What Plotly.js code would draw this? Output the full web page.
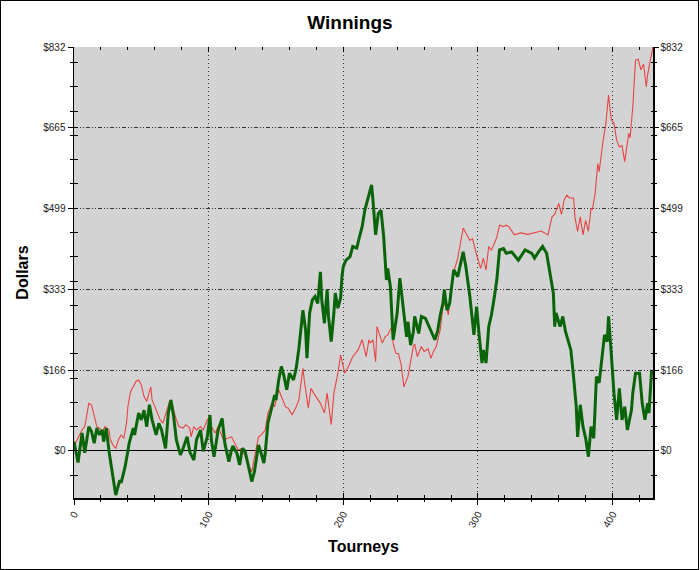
<!DOCTYPE html>
<html>
<head>
<meta charset="utf-8">
<script src="https://cdn.plot.ly/plotly-3.0.1.min.js"></script>
<style>
  html, body { margin: 0; padding: 0; background: #fff; }
  #chart { width: 700px; height: 570px; position: absolute; left: 0; top: 0; }
  #frame { position: absolute; left: 0; top: 0; width: 699px; height: 570px; box-sizing: border-box; border: 1px solid #000; pointer-events: none; }
</style>
</head>
<body>
<div id="chart"></div>
<div id="frame"></div>
<script>
// ---- data ----
const redTourneys = [0,6,8,10,11,13,15,17,19,21,23,26,27,29,31,33,35,37,39,40,42,44,46,48,50,52,54,55,57,58,60,62,64,66,68,71,72,74,76,78,81,83,86,87,89,91,94,96,99,101,102,105,107,111,117,122,125,129,132,134,137,139,142,144,147,149,152,154,157,159,162,165,167,170,171,174,176,178,181,183,186,188,191,193,196,198,201,204,207,211,214,215,217,219,220,222,224,225,227,229,231,233,236,237,239,241,243,245,248,250,252,253,255,258,260,263,265,267,269,272,274,276,278,280,282,285,287,289,291,294,296,298,299,302,304,306,308,310,313,314,316,319,321,323,327,332,337,342,347,352,355,357,360,362,364,366,368,371,372,374,376,378,380,382,384,385,387,389,390,393,395,397,399,401,403,405,407,409,412,413,415,417,419,421,423,425,426,428,430];
const redDollars  = [10,43,50,81,98,95,71,50,47,40,50,43,23,12,5,23,33,26,57,91,122,132,143,146,136,112,102,112,132,105,91,78,64,57,74,102,105,84,64,50,47,54,47,29,50,43,50,43,64,71,50,37,50,23,29,2,5,-25,-43,-14,29,33,43,78,98,91,126,112,91,88,74,91,105,170,146,88,129,119,105,98,78,119,54,119,160,198,160,175,194,208,229,215,194,229,222,229,184,256,240,222,235,239,256,222,201,200,177,132,153,187,215,220,194,215,205,210,191,205,215,250,297,304,280,328,369,397,428,459,449,434,437,414,404,376,397,373,421,413,434,440,465,462,465,462,445,449,446,450,453,445,482,487,510,487,517,527,521,521,482,452,482,445,475,452,500,497,530,592,575,640,675,733,682,675,640,626,629,596,654,645,709,805,807,785,797,750,775,805,832];

const greenTourneys = [0,3,6,8,11,13,15,17,19,21,22,24,26,29,31,34,35,38,41,44,45,48,50,52,54,56,58,61,63,65,68,70,72,74,76,79,81,84,86,89,91,94,96,99,101,102,104,107,110,112,115,117,118,121,123,125,127,129,131,132,134,137,139,141,142,144,147,149,150,152,154,156,158,160,163,165,167,170,172,173,175,177,179,181,183,184,186,188,189,191,193,194,196,198,199,200,202,205,207,210,212,214,216,219,221,222,224,226,228,230,232,233,235,237,240,242,245,247,248,250,252,253,256,258,261,263,266,268,270,272,274,275,277,279,280,282,285,287,289,291,294,297,299,301,303,304,306,308,310,312,314,316,319,321,325,330,335,340,342,345,348,351,353,356,357,358,361,363,365,367,369,371,373,374,376,378,380,382,384,386,388,390,394,396,397,399,401,403,405,407,409,411,414,415,417,420,422,424,426,427,429];
const greenDollars  = [19,-24,37,-4,50,40,16,47,33,43,19,47,-1,-53,-91,-60,-66,-32,16,47,33,78,64,84,50,95,64,33,57,43,5,78,105,71,23,-8,5,29,-2,-19,23,43,-1,29,74,23,-12,43,67,16,-22,2,10,-5,-29,5,0,-25,-53,-63,-43,12,-5,-25,-5,57,91,115,105,146,174,153,126,160,146,170,211,290,249,191,284,311,318,304,369,311,263,332,277,225,284,325,294,315,359,380,393,400,421,418,441,462,496,524,548,517,445,489,496,441,352,376,338,229,284,356,290,235,266,218,245,277,242,277,273,260,239,229,246,280,304,332,290,304,328,373,359,387,410,380,318,239,297,235,181,208,181,256,280,314,352,414,417,407,410,393,414,407,397,410,421,407,373,325,256,284,256,277,246,229,208,153,91,29,95,50,26,-12,50,26,153,140,239,225,277,201,119,64,129,64,91,43,84,119,160,160,98,64,98,78,167];

const yTickVals = [0, 166.4, 332.8, 499.2, 665.6, 832];
const yTickText = ['$0', '$166', '$333', '$499', '$665', '$832'];
const xTickVals = [0, 100, 200, 300, 400];
const xTickText = ['0', '100', '200', '300', '400'];

// ---- chart ----
const FONT = "Arial, 'Liberation Sans', sans-serif";
const yRange = [-97, 832];
const xRange = [0, 430];

const traces = [
  { x: redTourneys, y: redDollars, type: 'scatter', mode: 'lines',
    line: { color: '#e84444', width: 1.1 }, xaxis: 'x', yaxis: 'y', showlegend: false, hoverinfo: 'skip' },
  { x: greenTourneys, y: greenDollars, type: 'scatter', mode: 'lines',
    line: { color: '#0a640a', width: 3 }, xaxis: 'x', yaxis: 'y', showlegend: false, hoverinfo: 'skip' },
  // empty traces so the extra tick axes are drawn
  { x: [null], y: [null], type: 'scatter', mode: 'lines', xaxis: 'x', yaxis: 'y2', showlegend: false, hoverinfo: 'skip' },
  { x: [null], y: [null], type: 'scatter', mode: 'lines', xaxis: 'x2', yaxis: 'y3', showlegend: false, hoverinfo: 'skip' },
  { x: [null], y: [null], type: 'scatter', mode: 'lines', xaxis: 'x3', yaxis: 'y4', showlegend: false, hoverinfo: 'skip' }
];

const tickFont = { family: FONT, size: 10, color: '#222' };
const layout = {
  width: 700, height: 570,
  margin: { l: 74, r: 47, t: 47, b: 72 },
  paper_bgcolor: '#ffffff',
  plot_bgcolor: '#d3d3d3',
  showlegend: false,
  title: { text: 'Winnings', font: { family: FONT, size: 19, color: '#000', weight: 'bold' },
           x: 0.5, xref: 'container', xanchor: 'center', y: 0.961, yref: 'container', yanchor: 'middle' },
  xaxis: {
    range: xRange, side: 'bottom', anchor: 'y',
    tickmode: 'array', tickvals: xTickVals, ticktext: xTickText, tickangle: -60,
    tickfont: tickFont, ticks: 'outside', ticklen: 5, tickcolor: '#000', tickwidth: 1,
    minor: { tickmode: 'linear', tick0: 0, dtick: 20, ticks: 'outside', ticklen: 2, tickcolor: '#000', showgrid: false },
    showline: true, linecolor: '#000', linewidth: 1.5,
    showgrid: true, gridcolor: '#333', griddash: '1px,3px', gridwidth: 1,
    zeroline: false,
    title: { text: 'Tourneys', font: { family: FONT, size: 16, color: '#000', weight: 'bold' }, standoff: 12 },
    automargin: false
  },
  xaxis2: {
    range: xRange, overlaying: 'x', side: 'bottom', anchor: 'y3',
    tickmode: 'array', tickvals: xTickVals, showticklabels: false,
    ticks: 'inside', ticklen: 5, tickcolor: '#000',
    minor: { tickmode: 'linear', tick0: 0, dtick: 20, ticks: 'inside', ticklen: 3, tickcolor: '#000', showgrid: false },
    showline: false, showgrid: false, zeroline: false
  },
  xaxis3: {
    range: xRange, overlaying: 'x', side: 'top', anchor: 'y4',
    tickmode: 'array', tickvals: xTickVals, showticklabels: false,
    ticks: 'inside', ticklen: 5, tickcolor: '#000',
    minor: { tickmode: 'linear', tick0: 0, dtick: 20, ticks: 'inside', ticklen: 3, tickcolor: '#000', showgrid: false },
    showline: false, showgrid: false, zeroline: false
  },
  yaxis: {
    range: yRange, side: 'left', anchor: 'x',
    tickmode: 'array', tickvals: yTickVals, ticktext: yTickText, tickfont: tickFont,
    ticks: 'outside', ticklen: 5, tickcolor: '#000',
    minor: { tickmode: 'linear', tick0: 0, dtick: 50, ticks: 'outside', ticklen: 3, tickcolor: '#000', showgrid: false },
    showline: true, linecolor: '#000', linewidth: 1.5,
    showgrid: true, gridcolor: '#333', griddash: '4px,2px,1px,2px,1px,2px', gridwidth: 1,
    zeroline: true, zerolinecolor: '#000', zerolinewidth: 1,
    title: { text: 'Dollars', font: { family: FONT, size: 16, color: '#000', weight: 'bold' }, standoff: 10 },
    automargin: false
  },
  yaxis2: {
    range: yRange, overlaying: 'y', side: 'right', anchor: 'x',
    tickmode: 'array', tickvals: yTickVals, ticktext: yTickText, tickfont: tickFont,
    ticks: 'outside', ticklen: 4, tickcolor: '#000',
    minor: { tickmode: 'linear', tick0: 0, dtick: 50, ticks: 'outside', ticklen: 2, tickcolor: '#000', showgrid: false },
    showline: true, linecolor: '#000', linewidth: 1.5,
    showgrid: false, zeroline: false
  },
  yaxis3: {
    range: yRange, overlaying: 'y', side: 'left', anchor: 'x2',
    tickmode: 'array', tickvals: yTickVals, showticklabels: false,
    ticks: 'inside', ticklen: 4, tickcolor: '#000',
    minor: { tickmode: 'linear', tick0: 0, dtick: 50, ticks: 'inside', ticklen: 4, tickcolor: '#000', showgrid: false },
    showline: false, showgrid: false, zeroline: false
  },
  yaxis4: {
    range: yRange, overlaying: 'y', side: 'right', anchor: 'x3',
    tickmode: 'array', tickvals: yTickVals, showticklabels: false,
    ticks: 'inside', ticklen: 3, tickcolor: '#000',
    minor: { tickmode: 'linear', tick0: 0, dtick: 50, ticks: 'inside', ticklen: 2, tickcolor: '#000', showgrid: false },
    showline: false, showgrid: false, zeroline: false
  }
};

Plotly.newPlot('chart', traces, layout, { staticPlot: true, displayModeBar: false });
</script>
</body>
</html>
